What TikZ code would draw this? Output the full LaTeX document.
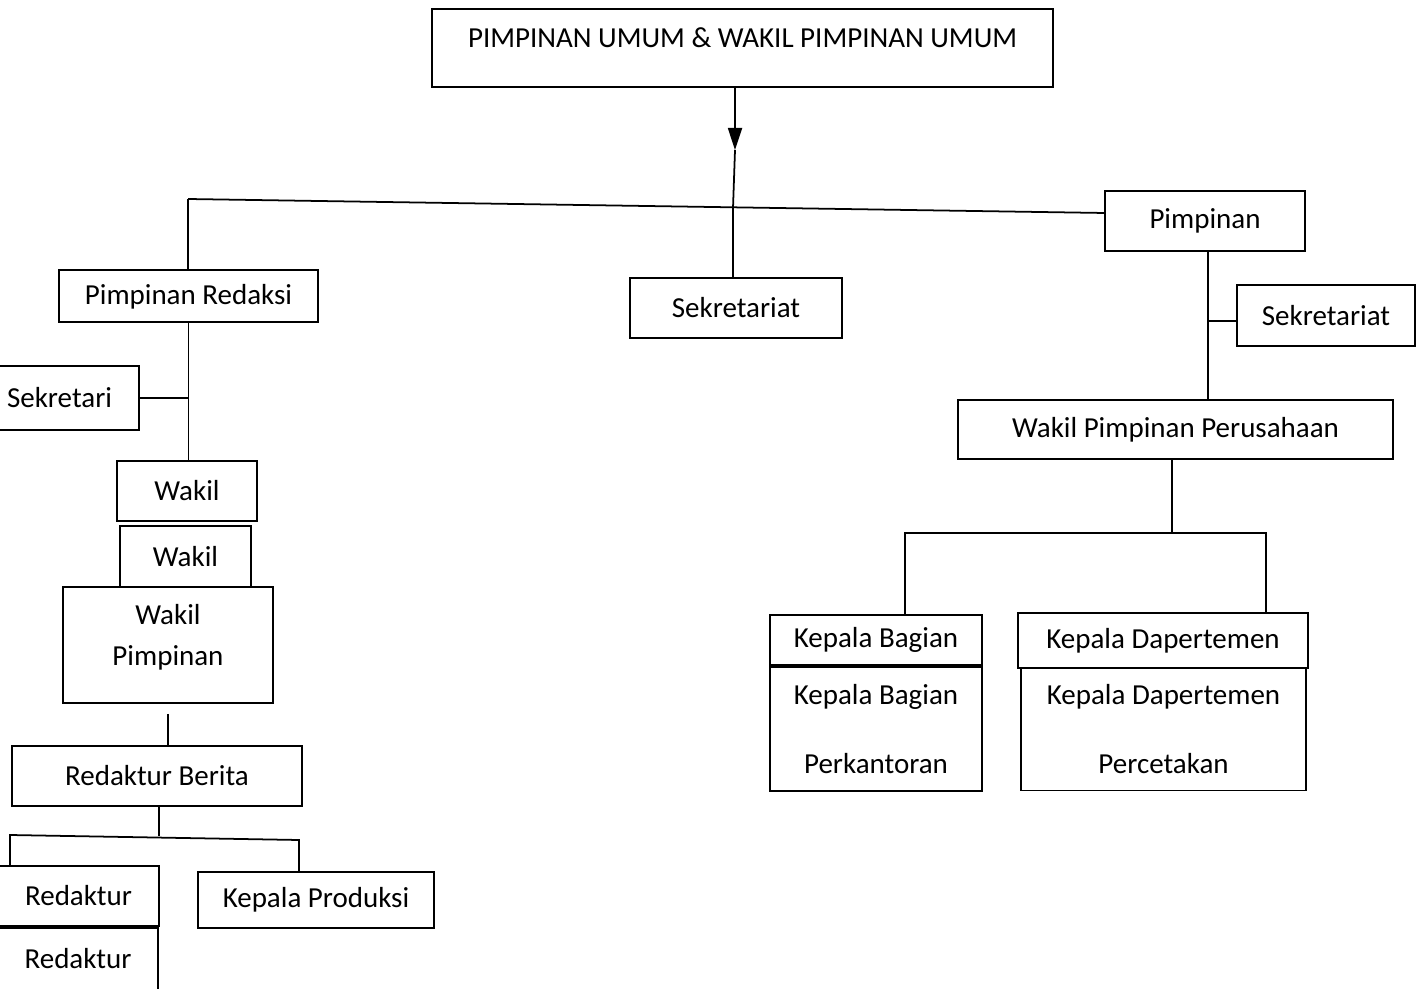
\documentclass[tikz,border=0pt]{standalone}
\usepackage{fontspec}
\setmainfont{Carlito}
\usetikzlibrary{arrows.meta, positioning}

\tikzset{
  box/.style={draw, line width=1pt, inner sep=2pt, align=center,
    font=\fontsize{16.5}{19.8}\selectfont},
  link/.style={line width=1pt}
}

\begin{document}
\begin{tikzpicture}[x=0.02cm, y=-0.02cm]
  \useasboundingbox (0,0) rectangle (1423,989);

  % puncak
  \node[box, minimum width=12.42cm, minimum height=1.56cm, text height=0.3cm, text depth=0.3cm] (umum) at (742.5,48) {PIMPINAN UMUM \& WAKIL PIMPINAN UMUM};
  \node[box, minimum width=5.18cm, minimum height=1.04cm, text height=0.38cm, text depth=0.05cm] (predaksi) at (188.5,296) {Pimpinan Redaksi};
  \node[box, minimum width=4.24cm, minimum height=1.2cm] (sektengah) at (736,308) {Sekretariat};
  \node[box, minimum width=4cm, minimum height=1.2cm] (pimpinan) at (1205,221) {Pimpinan};

  % cabang perusahaan
  \node[box, minimum width=3.56cm, minimum height=1.22cm] (sekkanan) at (1326,315.5) {Sekretariat};
  \node[box, minimum width=8.7cm, minimum height=1.18cm] (wakilpp) at (1175.5,429.5) {Wakil Pimpinan Perusahaan};
  \node[box, minimum width=4.24cm, minimum height=1cm] (kbatas) at (876,640) {Kepala Bagian};
  \node[box, minimum width=4.24cm, minimum height=2.48cm] (kbbawah) at (876,729) {Kepala Bagian\\[0.68cm]Perkantoran};
  \node[box, minimum width=5.8cm, minimum height=1.1cm] (kdatas) at (1163,640.5) {Kepala Dapertemen};
  \node[box, minimum width=5.7cm, minimum height=2.46cm] (kdbawah) at (1163.5,729) {Kepala Dapertemen\\[0.68cm]Percetakan};

  % cabang redaksi
  \node[box, minimum width=3.18cm, minimum height=1.28cm] (sekretari) at (59.5,398) {Sekretari};
  \node[box, minimum width=2.8cm, minimum height=1.2cm] (wakila) at (187,491) {Wakil};
  \node[box, minimum width=2.62cm, minimum height=1.22cm] (wakilb) at (185.5,556.5) {Wakil};
  \node[box, minimum width=4.2cm, minimum height=2.32cm, text height=1cm, text depth=0.16cm] (wakilpimp) at (168,645) {Wakil\\[0.14cm]Pimpinan};
  \node[box, minimum width=5.8cm, minimum height=1.2cm] (redberita) at (157,776) {Redaktur Berita};
  \node[box, minimum width=3.22cm, minimum height=1.2cm] (reda) at (78.5,896) {Redaktur};
  \node[box, minimum width=3.2cm, minimum height=1.24cm] (redb) at (78,959) {Redaktur};
  \node[box, minimum width=4.72cm, minimum height=1.12cm] (kprod) at (316,900) {Kepala Produksi};

  % titik cabang
  \coordinate (ja) at (735,150);
  \coordinate (jl) at (188,199);
  \coordinate (jt) at (733,208);
  \coordinate (jr) at (1105,213);
  \coordinate (jp) at (1208,321);
  \coordinate (jw) at (1172,533);
  \coordinate (jkb) at (905,533);
  \coordinate (jkd) at (1266,533);
  \coordinate (jb) at (159,836);
  \coordinate (jbl) at (10,835);
  \coordinate (jbr) at (299,840);

  % garis
  \draw[link, -{Triangle[length=0.44cm, width=0.28cm]}] (umum.south -| ja) -- (ja);
  \draw[link] (ja) -- (jt);
  \draw[link] (jl) -- (jr);
  \draw[link] (jl) -- (predaksi.north -| jl);
  \draw[link] (jt) -- (jt |- sektengah.north);
  \draw[link] (pimpinan.south -| jp) -- (jp) -- (jp |- wakilpp.north);
  \draw[link] (jp) -- (jp -| sekkanan.west);
  \draw[link] (wakilpp.south -| jw) -- (jw);
  \draw[link] (kbatas.north -| jkb) -- (jkb) -- (jkd) -- (kdatas.north -| jkd);
  \draw[link] (predaksi.south) -- (predaksi.south |- wakila.north);
  \draw[link] (sekretari.east) -- (sekretari.east -| predaksi.south);
  \draw[link] ([yshift=-0.2cm]wakilpimp.south) -- (wakilpimp.south |- redberita.north);
  \draw[link] (redberita.south -| jb) -- (jb);
  \draw[link] (reda.north -| jbl) -- (jbl) -- (jbr) -- (kprod.north -| jbr);
\end{tikzpicture}
\end{document}
